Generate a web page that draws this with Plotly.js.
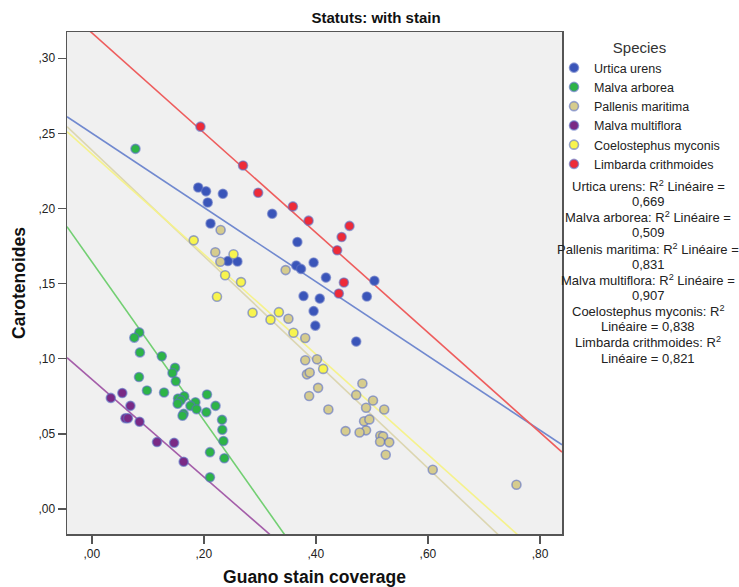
<!DOCTYPE html>
<html>
<head>
<meta charset="utf-8">
<script src="https://cdn.plot.ly/plotly-3.0.1.min.js"></script>
<style>html,body{margin:0;padding:0;background:#fff;}#chart{width:739px;height:587px;}</style>
</head>
<body>
<div id="chart"></div>
<script>
// ---- data ----
const species = ["Urtica urens", "Malva arborea", "Pallenis maritima", "Malva multiflora", "Coelostephus myconis", "Limbarda crithmoides"];
const r2Values = ["0,669", "0,509", "0,831", "0,907", "0,838", "0,821"];

const urticaX = [0.190,0.204,0.234,0.207,0.322,0.212,0.367,0.243,0.260,0.365,0.3735,0.396,0.418,0.5045,0.378,0.407,0.491,0.396,0.399,0.472];
const urticaY = [0.214,0.2114,0.2098,0.204,0.1965,0.190,0.1777,0.165,0.1647,0.162,0.1598,0.164,0.154,0.1519,0.1417,0.140,0.1414,0.1317,0.122,0.1114];

const arboreaX = [0.078,0.0848,0.0759,0.086,0.125,0.1486,0.144,0.150,0.0843,0.0985,0.129,0.2057,0.154,0.165,0.159,0.1533,0.185,0.176,0.187,0.221,0.2045,0.164,0.162,0.2325,0.233,0.235,0.211,0.2366,0.211];
const arboreaY = [0.2397,0.1175,0.114,0.1042,0.1016,0.094,0.0905,0.085,0.0878,0.0788,0.0775,0.0762,0.0735,0.075,0.0724,0.070,0.071,0.0686,0.0664,0.0686,0.0644,0.0633,0.062,0.0593,0.0527,0.0452,0.0378,0.0337,0.021];

const pallenisX = [0.230,0.2205,0.2295,0.346,0.351,0.381,0.381,0.402,0.384,0.389,0.388,0.404,0.483,0.472,0.502,0.4896,0.522,0.4223,0.486,0.4955,0.4896,0.478,0.453,0.515,0.520,0.5146,0.531,0.5247,0.6086,0.758];
const pallenisY = [0.1857,0.1709,0.1645,0.159,0.1266,0.1138,0.099,0.0996,0.0896,0.0908,0.0752,0.0806,0.0835,0.0759,0.0722,0.0673,0.0662,0.0662,0.0584,0.0596,0.0523,0.0509,0.0518,0.0487,0.0483,0.0447,0.0443,0.0361,0.0261,0.0161];

const multifloraX = [0.034,0.0545,0.069,0.060,0.0646,0.0853,0.1164,0.147,0.164];
const multifloraY = [0.0739,0.0772,0.0686,0.0604,0.0604,0.058,0.0445,0.044,0.0314];

const coelostephusX = [0.182,0.253,0.238,0.2664,0.2235,0.287,0.334,0.319,0.360,0.413];
const coelostephusY = [0.1788,0.1695,0.1556,0.151,0.1412,0.1306,0.131,0.126,0.1173,0.0932];

const limbardaX = [0.194,0.270,0.297,0.359,0.387,0.460,0.446,0.438,0.450,0.441];
const limbardaY = [0.2545,0.2286,0.2105,0.2014,0.1919,0.1884,0.181,0.1722,0.1507,0.1434];

// fitted line coefficients (y = a + b*x)
const fitIntercepts = [0.2502, 0.1646, 0.2389, 0.0863, 0.2364, 0.3170];
const fitSlopes = [-0.2472, -0.528, -0.3529, -0.325, -0.3336, -0.3326];

const xTickVals = [0, 0.2, 0.4, 0.6, 0.8];
const xTickText = [",00", ",20", ",40", ",60", ",80"];
const yTickVals = [0, 0.05, 0.10, 0.15, 0.20, 0.25, 0.30];
const yTickText = [",00", ",05", ",10", ",15", ",20", ",25", ",30"];

// ---- styles ----
const markerColors = ["#3a55b9", "#2db447", "#d6cc8e", "#7a2a85", "#f8f44e", "#ee2b38"];
const lineColors = ["#7189cf", "#72cf72", "#dcd6b0", "#a45ea9", "#f5f28c", "#ee5d5d"];
const xRange = [-0.0442, 0.8393];
const yRange = [-0.0167, 0.3175];

const xs = [urticaX, arboreaX, pallenisX, multifloraX, coelostephusX, limbardaX];
const ys = [urticaY, arboreaY, pallenisY, multifloraY, coelostephusY, limbardaY];

const traces = [];
species.forEach((s, i) => {
  const lx = [xRange[0], xRange[1]];
  traces.push({
    x: lx, y: lx.map(v => fitIntercepts[i] + fitSlopes[i] * v),
    type: "scatter", mode: "lines", showlegend: false, hoverinfo: "skip",
    legendgroup: s, line: {color: lineColors[i], width: 1.6}
  });
});
species.forEach((s, i) => {
  traces.push({
    x: xs[i], y: ys[i], name: s, legendgroup: s,
    type: "scatter", mode: "markers",
    marker: {size: 9, color: markerColors[i], line: {color: "rgba(90,110,195,0.6)", width: 1.6}}
  });
});

// R² text lines (two lines per species)
const r2TextLines = [];
species.forEach((s, i) => {
  if (s.length > 18) {
    r2TextLines.push(s + ": R<sup>2</sup>", "Linéaire = " + r2Values[i]);
  } else {
    r2TextLines.push(s + ": R<sup>2</sup> Linéaire =", r2Values[i]);
  }
});
const plotTop = 32, plotH = 502;
const annotations = r2TextLines.map((t, k) => ({
  text: t, xref: "paper", yref: "paper",
  x: (648 - 67) / 495, xanchor: "center",
  y: 1 - (186 + k * 15.64 - plotTop) / plotH, yanchor: "middle",
  showarrow: false, align: "center", font: {size: 13, color: "#222"}
}));

const font = "Arial, 'Liberation Sans', sans-serif";
const layout = {
  width: 739, height: 587,
  paper_bgcolor: "#ffffff", plot_bgcolor: "#f0f0f0",
  margin: {l: 67, r: 177, t: 32, b: 53},
  font: {family: font, size: 12, color: "#222"},
  title: {text: "<b>Statuts: with stain</b>", x: 376/739, xref: "container", xanchor: "center",
          y: 1 - 18/587, yref: "container", yanchor: "middle", font: {size: 15, color: "#111"}},
  xaxis: {range: xRange, tickvals: xTickVals, ticktext: xTickText, showgrid: false, zeroline: false,
          showline: true, mirror: true, linecolor: "#555", linewidth: 1.5, ticks: "outside", ticklen: 8,
          tickcolor: "#555", tickwidth: 1.5, tickfont: {size: 12, color: "#222"},
          title: {text: "<b>Guano stain coverage</b>", font: {size: 17.5, color: "#111"}, standoff: 16}},
  yaxis: {range: yRange, tickvals: yTickVals, ticktext: yTickText, showgrid: false, zeroline: false,
          showline: true, mirror: true, linecolor: "#555", linewidth: 1.5, ticks: "outside", ticklen: 8,
          tickcolor: "#555", tickwidth: 1.5, tickfont: {size: 12, color: "#222"},
          title: {text: "<b>Carotenoides</b>", font: {size: 17.5, color: "#111"}, standoff: 8}},
  legend: {x: (554 - 67) / 495, xanchor: "left", y: 0.997, yanchor: "top", bgcolor: "rgba(0,0,0,0)",
           font: {size: 12.5, color: "#222"}, itemwidth: 30, tracegroupgap: 0,
           title: {text: "Species", side: "top center", font: {size: 15, color: "#333"}}},
  annotations: annotations
};

Plotly.newPlot("chart", traces, layout, {displayModeBar: false, staticPlot: true});
</script>
</body>
</html>
